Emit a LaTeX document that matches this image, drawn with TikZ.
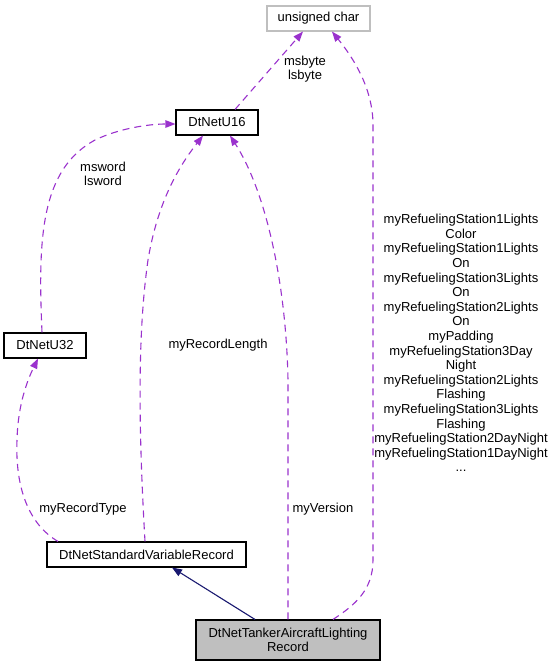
\documentclass[tikz,border=0pt]{standalone}
\usepackage{fontspec}
\setmainfont{Liberation Sans}
\usetikzlibrary{arrows.meta}
\definecolor{dep}{HTML}{9A32CD}
\definecolor{inh}{HTML}{191970}
\definecolor{gbox}{HTML}{BFBFBF}
\tikzset{
  cls/.style={draw=black, line width=1.1pt, rectangle, inner sep=0pt, minimum height=25pt, font=\fontsize{13}{14.6}\selectfont, align=center},
  depline/.style={draw=dep, line width=1.1pt, dash pattern=on 7pt off 5pt, -{Triangle[length=10pt,width=7.5pt]}},
  inhline/.style={draw=inh, line width=1.1pt, -{Triangle[length=10pt,width=7.5pt]}},
  lbl/.style={inner sep=0pt, font=\fontsize{13}{14.6}\selectfont, align=center}
}
\begin{document}
\begin{tikzpicture}[x=1pt,y=-1pt]
\useasboundingbox (0,0) rectangle (557,667);
% nodes
\node[cls, draw=gbox, minimum width=103pt] (uc) at (318.5,18.5) {unsigned char};
\node[cls, minimum width=82pt] (u16) at (217,122.5) {DtNetU16};
\node[cls, minimum width=82pt] (u32) at (45,345.5) {DtNetU32};
\node[cls, minimum width=199pt] (svr) at (146.5,554.5) {DtNetStandardVariableRecord};
\node[cls, fill=gbox, minimum width=184pt, minimum height=40pt] (tk) at (288,640) {DtNetTankerAircraftLighting\\Record};
% edges
\draw[depline] ([xshift=18pt]u16.north) -- ([xshift=-15.5pt]uc.south);
\draw[depline] ([xshift=45pt]tk.north) .. controls (355,605) and (373,590) .. (373,560) -- (373,125) .. controls (373,90) and (355,60) .. ([xshift=13.5pt]uc.south);
\draw[depline] ([xshift=-3pt]u32.north) .. controls (38,240) and (40,170) .. (95,140) .. controls (120,128) and (150,124) .. ([yshift=-1.5pt]u16.west);
\draw[depline] ([xshift=-88.5pt]svr.north) .. controls (30,525) and (15,490) .. (17,440) .. controls (18,400) and (30,375) .. ([xshift=-7pt]u32.south);
\draw[depline] ([xshift=-1.5pt]svr.north) .. controls (138,420) and (138,330) .. (148,260) .. controls (158,200) and (180,165) .. ([xshift=-14pt]u16.south);
\draw[depline] (tk.north) -- (288,380) .. controls (286,280) and (265,190) .. ([xshift=13pt]u16.south);
\draw[inhline] ([xshift=-33pt]tk.north) -- ([xshift=25.5pt]svr.south);
% labels
\node[lbl] (l1) at (305,69) {msbyte\\lsbyte};
\node[lbl] (l2) at (103,174) {msword\\lsword};
\node[lbl] (l3) at (218,345) {myRecordLength};
\node[lbl] (l4) at (83,509) {myRecordType};
\node[lbl] (l5) at (323,509) {myVersion};
\node[lbl] (l6) at (461,343) {myRefuelingStation1Lights\\Color\\myRefuelingStation1Lights\\On\\myRefuelingStation3Lights\\On\\myRefuelingStation2Lights\\On\\myPadding\\myRefuelingStation3Day\\Night\\myRefuelingStation2Lights\\Flashing\\myRefuelingStation3Lights\\Flashing\\myRefuelingStation2DayNight\\myRefuelingStation1DayNight\\...};
\end{tikzpicture}
\end{document}
